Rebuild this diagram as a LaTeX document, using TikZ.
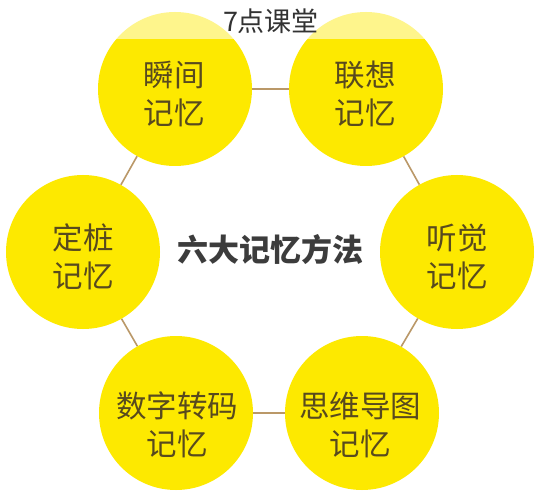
\documentclass[tikz,border=0pt]{standalone}
\usepackage{fontspec}
\newfontfamily\cjk{Noto Sans CJK SC}
\definecolor{yel}{RGB}{253,233,0}
\definecolor{ctext}{RGB}{88,74,30}
\definecolor{conn}{RGB}{186,152,104}
\definecolor{title}{RGB}{60,60,60}
\definecolor{mark}{RGB}{50,50,50}
\tikzset{
  bubble/.style={circle, fill=yel, minimum size=154pt, inner sep=0pt},
  btext/.style={text=ctext, font=\cjk\fontsize{30.5}{37.5}\selectfont, align=center, inner sep=0pt},
  connline/.style={draw=conn, line width=1.6pt},
}
\begin{document}
\begin{tikzpicture}[x=1pt,y=-1pt]
\useasboundingbox (0,0) rectangle (541,500);
\fill[white] (0,0) rectangle (541,500);
\node[bubble] (c1) at (175,89) {};
\node[bubble] (c2) at (366,89) {};
\node[bubble] (c3) at (457,252) {};
\node[bubble] (c4) at (362,413) {};
\node[bubble] (c5) at (176,413) {};
\node[bubble] (c6) at (83,252) {};
\draw[connline] (c1) -- (c2);
\draw[connline] (c2) -- (c3);
\draw[connline] (c3) -- (c4);
\draw[connline] (c4) -- (c5);
\draw[connline] (c5) -- (c6);
\draw[connline] (c6) -- (c1);
\node[btext] (t1) at (174,94) {瞬间\\记忆};
\node[btext] (t2) at (365,94) {联想\\记忆};
\node[btext] (t3) at (457,257) {听觉\\记忆};
\node[btext] (t4) at (360,425) {思维导图\\记忆};
\node[btext] (t5) at (177,425) {数字转码\\记忆};
\node[btext] (t6) at (83,257) {定桩\\记忆};
\node[text=title, font=\cjk\bfseries\fontsize{31}{31}\selectfont, inner sep=0pt] (ttl) at (270,250) {六大记忆方法};
\fill[white, opacity=0.55] (0,0) rectangle (541,39);
\node[text=mark, font=\cjk\fontsize{27}{27}\selectfont, inner sep=0pt] (wm) at (271,21) {7点课堂};
\end{tikzpicture}
\end{document}
